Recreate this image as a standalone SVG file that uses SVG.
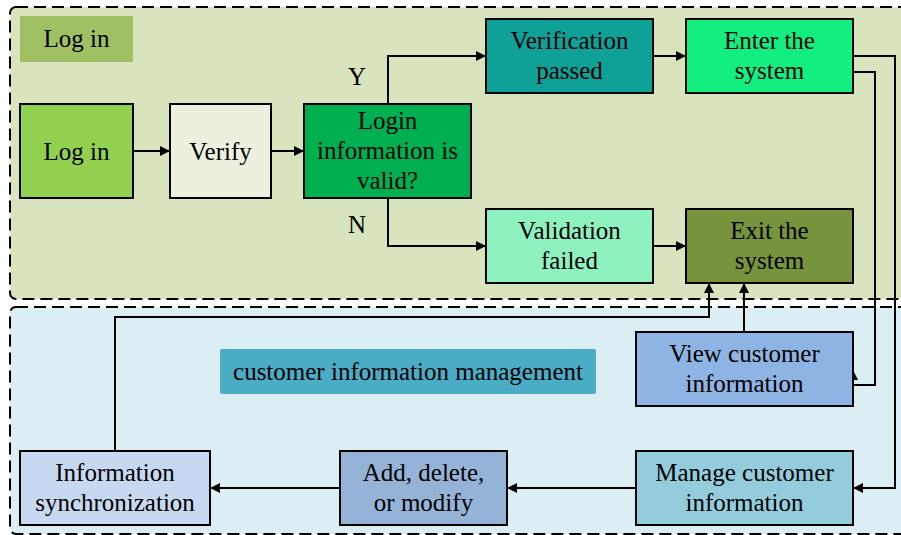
<svg xmlns="http://www.w3.org/2000/svg" width="901" height="535" viewBox="0 0 901 535">
  <defs>
    <marker id="arr" viewBox="0 0 10 10" refX="10" refY="5" markerWidth="10" markerHeight="10" markerUnits="userSpaceOnUse" orient="auto">
      <path d="M0,0 L10,5 L0,10 Z" fill="#000"/>
    </marker>
  </defs>
  <style>
    .zone { stroke: #000; stroke-width: 2; stroke-dasharray: 12 6; }
    .box { stroke: #000; stroke-width: 2; }
    .t { font-family: "Liberation Serif", "Times New Roman", serif; font-size: 25px; fill: #000; text-anchor: middle; }
    .c { fill: none; stroke: #000; stroke-width: 2; marker-end: url(#arr); }
  </style>

  <!-- swimlane backgrounds -->
  <g id="lane-login">
    <rect class="zone" x="10" y="7" width="898" height="292" rx="6" fill="#d7e4bd"/>
    <rect x="20" y="16" width="113" height="46" fill="#9bbb59" opacity="0.9"/>
    <text class="t" x="76.5" y="47">Log in</text>
  </g>
  <g id="lane-customer">
    <rect class="zone" x="10" y="307" width="898" height="227" rx="6" fill="#dbeef4"/>
    <rect x="220" y="349" width="376" height="45" rx="2" fill="#4bacc6"/>
    <text class="t" x="408" y="380">customer information management</text>
  </g>

  <!-- connectors -->
  <g id="connectors">
    <path class="c" d="M133,151 L170,151"/>
    <path class="c" d="M271,151 L304,151"/>
    <path class="c" d="M388,104 L388,56 L486,56"/>
    <path class="c" d="M388,198 L388,246 L486,246"/>
    <path class="c" d="M653,56 L686,56"/>
    <path class="c" d="M653,246 L686,246"/>
    <path class="c" d="M853,56 L895,56 L895,488 L853,488"/>
    <path class="c" d="M853,72 L875,72 L875,385 L853,385 L853,370"/>
    <path class="c" d="M744,332 L744,283"/>
    <path class="c" d="M115,451 L115,317 L709,317 L709,283"/>
    <path class="c" d="M636,488 L507,488"/>
    <path class="c" d="M340,488 L210,488"/>
    <text class="t" x="357" y="85">Y</text>
    <text class="t" x="357" y="233">N</text>
  </g>

  <!-- nodes -->
  <g id="node-login">
    <rect class="box" x="20" y="104" width="113" height="94" fill="#92d050"/>
    <text class="t" x="76.5" y="160">Log in</text>
  </g>
  <g id="node-verify">
    <rect class="box" x="170" y="104" width="101" height="94" fill="#ebf1de"/>
    <text class="t" x="220.5" y="160">Verify</text>
  </g>
  <g id="node-valid">
    <rect class="box" x="304" y="104" width="167" height="94" fill="#00b050"/>
    <text class="t" x="387.5" y="129">Login</text>
    <text class="t" x="387.5" y="159">information is</text>
    <text class="t" x="387.5" y="189">valid?</text>
  </g>
  <g id="node-passed">
    <rect class="box" x="486" y="19" width="167" height="74" fill="#0fa098"/>
    <text class="t" x="569.5" y="49">Verification</text>
    <text class="t" x="569.5" y="79">passed</text>
  </g>
  <g id="node-enter">
    <rect class="box" x="686" y="19" width="167" height="74" fill="#13ee80"/>
    <text class="t" x="769.5" y="49">Enter the</text>
    <text class="t" x="769.5" y="79">system</text>
  </g>
  <g id="node-failed">
    <rect class="box" x="486" y="209" width="167" height="74" fill="#8ef1c0"/>
    <text class="t" x="569.5" y="239">Validation</text>
    <text class="t" x="569.5" y="269">failed</text>
  </g>
  <g id="node-exit">
    <rect class="box" x="686" y="209" width="167" height="74" fill="#77933c"/>
    <text class="t" x="769.5" y="239">Exit the</text>
    <text class="t" x="769.5" y="269">system</text>
  </g>
  <g id="node-view">
    <rect class="box" x="636" y="332" width="217" height="74" fill="#8eb4e3"/>
    <text class="t" x="744.5" y="362">View customer</text>
    <text class="t" x="744.5" y="392">information</text>
  </g>
  <g id="node-manage">
    <rect class="box" x="636" y="451" width="217" height="74" fill="#93cddd"/>
    <text class="t" x="744.5" y="481">Manage customer</text>
    <text class="t" x="744.5" y="511">information</text>
  </g>
  <g id="node-modify">
    <rect class="box" x="340" y="451" width="167" height="74" fill="#95b3d7"/>
    <text class="t" x="423.5" y="481">Add, delete,</text>
    <text class="t" x="423.5" y="511">or modify</text>
  </g>
  <g id="node-sync">
    <rect class="box" x="20" y="451" width="190" height="74" fill="#c6d9f0"/>
    <text class="t" x="115" y="481">Information</text>
    <text class="t" x="115" y="511">synchronization</text>
  </g>
</svg>
